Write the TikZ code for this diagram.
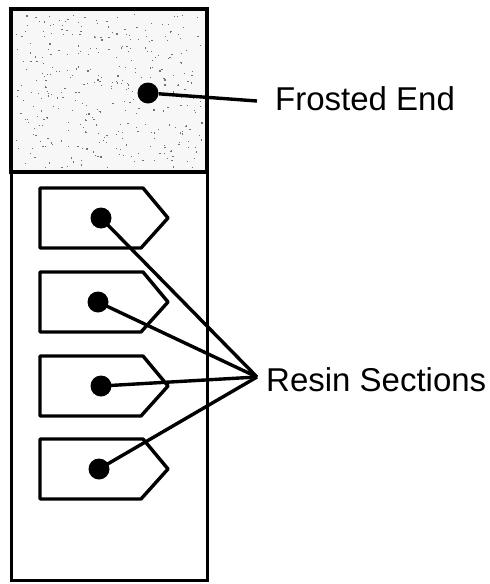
\documentclass[tikz,border=0pt]{standalone}
\usepackage{fontspec}
\setmainfont{Liberation Sans}
\usetikzlibrary{positioning}

\begin{document}
\begin{tikzpicture}[x=1pt, y=-1pt,
    dot/.style={circle, fill=black, inner sep=0pt, minimum size=21pt},
    lbl/.style={font=\fontsize{33}{40}\selectfont, inner sep=0pt, anchor=west},
    wire/.style={line width=3.4pt},
    tag/.style={line width=3.4pt, line join=round}]

  \useasboundingbox (0, 0) rectangle (490, 584);

  % tube
  \draw[line width=3pt] (11, 172) rectangle (207, 580);
  \fill[black!3] (11, 9) rectangle (207, 172);
  % frosting speckles
  \pgfmathsetseed{7}
  \foreach \k in {1,...,350}
    \fill[black!55] (16+186*rnd, 14+153*rnd) rectangle ++(1.2, 1.2);
  \draw[line width=4.5pt] (11, 9) rectangle (207, 172);

  % frosted end
  \node[dot] (fdot) at (148, 93) {};
  \coordinate (fend) at (257, 101);
  \node[lbl] (frost) at (275, 99) {Frosted End};
  \draw[wire] (fdot) -- (fend);

  % resin sections
  \foreach \i/\t/\dx in {1/188/101, 2/272/98, 3/356/101, 4/439/99} {
    \draw[tag] (40, \t) -- (143, \t) -- (168, \t+30) -- (141, \t+60) -- (40, \t+60) -- cycle;
    \node[dot] (r\i) at (\dx, \t+30) {};
  }

  \coordinate (hub) at (257, 377);
  \node[lbl] (resin) at (266, 380) {Resin Sections};
  \foreach \i in {1, 2, 3, 4}
    \draw[wire] (r\i.center) -- (hub);
\end{tikzpicture}
\end{document}
